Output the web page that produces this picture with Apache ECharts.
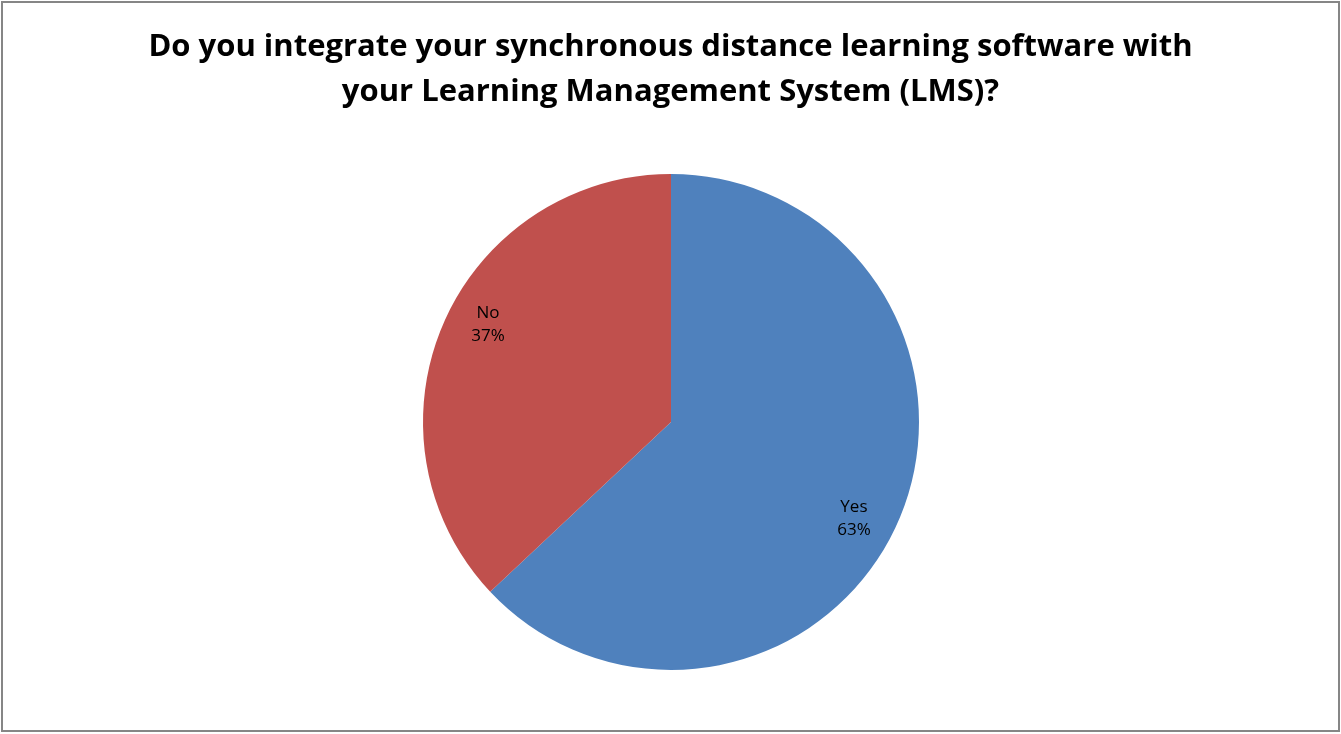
<!DOCTYPE html>
<html>
<head>
<meta charset="utf-8">
<script src="https://cdn.jsdelivr.net/npm/echarts@6/dist/echarts.min.js"></script>
<style>
html,body{margin:0;padding:0;background:#fff;}
#chart{width:1341px;height:734px;}
</style>
</head>
<body>
<div id="chart"></div>
<script>
const titleText = 'Do you integrate your synchronous distance learning software with\nyour Learning Management System (LMS)?';
const categories = ['Yes', 'No'];
const values = [63, 37];
const colors = ['#4F81BD', '#C0504D'];

const data = categories.map((c, i) => ({ name: c, value: values[i], itemStyle: { color: colors[i] } }));
const labelData = categories.map((c, i) => ({ name: c, value: values[i] }));

const chart = echarts.init(document.getElementById('chart'), null, { renderer: 'canvas' });
chart.setOption({
  backgroundColor: '#fff',
  animation: false,
  title: {
    text: titleText,
    left: 'center',
    top: 20,
    textStyle: { fontFamily: 'Open Sans', fontWeight: 'bold', fontSize: 31, color: '#000', lineHeight: 45 }
  },
  graphic: [{
    type: 'rect',
    shape: { x: 2, y: 2, width: 1337, height: 729 },
    style: { fill: 'none', stroke: '#868686', lineWidth: 2 },
    silent: true
  }],
  series: [{
    type: 'pie',
    center: [671, 422],
    radius: [0, 248],
    startAngle: 90,
    clockwise: true,
    label: { show: false },
    labelLine: { show: false },
    itemStyle: { borderWidth: 0 },
    data: data
  }, {
    type: 'pie',
    center: [671, 422],
    radius: [160, 248],
    startAngle: 85.5,
    clockwise: true,
    silent: true,
    itemStyle: { color: 'rgba(0,0,0,0)' },
    label: {
      show: true,
      position: 'inside',
      formatter: '{b}\n{d}%',
      fontFamily: 'Open Sans',
      fontSize: 17,
      lineHeight: 23,
      color: '#000'
    },
    labelLine: { show: false },
    data: labelData
  }]
});
</script>
</body>
</html>
